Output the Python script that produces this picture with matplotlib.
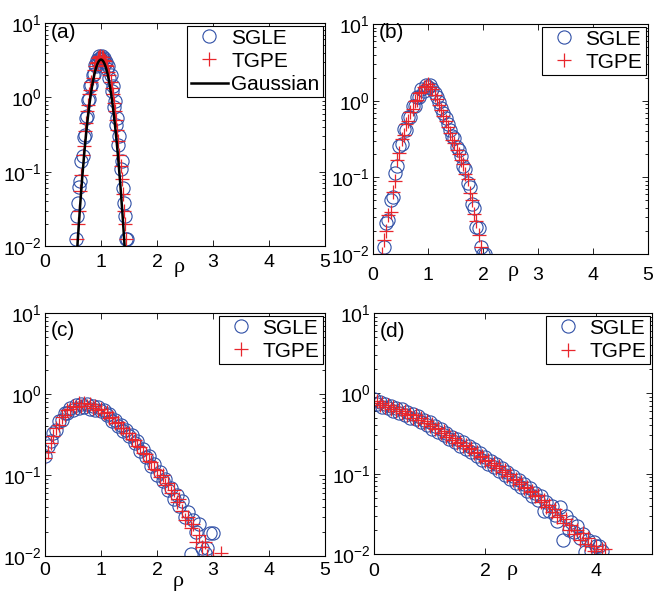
import numpy as np
import matplotlib
matplotlib.use("Agg")
import matplotlib.pyplot as plt
from matplotlib.ticker import LogLocator, NullFormatter, FixedLocator

plt.rcParams['font.family'] = ['Liberation Sans', 'DejaVu Sans']
plt.rcParams['font.size'] = 14
plt.rcParams['mathtext.default'] = 'regular'

nan = np.nan

# ---- panel (a): histogram bins and densities ----
rho_a = np.linspace(0.55, 1.47, 47)
sgle_a = [0.0125, 0.025, 0.0375, 0.0625, 0.075, 0.14, 0.16, 0.29, 0.31, 0.52,
          0.56, 0.92, 0.95, 1.4, 1.45, 2.0, 2.05, 2.7, 2.6, 3.2,
          3.1, 3.6, 3.4, 3.55, 3.3, 3.4, 2.9, 3.0, 2.4, 2.6,
          1.8, 2.0, 1.2, 1.4, 0.75, 0.9, 0.42, 0.52, 0.23, 0.3,
          0.11, 0.14, 0.06, 0.0375, 0.025, 0.0125, 0.0125]
tgpe_a = [nan, 0.0125, 0.02, 0.03, 0.055, 0.09, 0.17, 0.22, 0.35, 0.45,
          0.65, 0.8, 1.1, 1.25, 1.6, 1.8, 2.3, 2.6, 2.9, 3.0,
          3.35, 3.5, 3.65, 3.5, 3.45, 3.2, 3.1, 2.7, 2.6, 2.2,
          2.0, 1.6, 1.35, 1.1, 0.85, 0.65, 0.5, 0.36, 0.26, 0.17,
          0.12, 0.08, 0.05, 0.03, 0.02, 0.0125, nan]
gauss_mu = 1.0
gauss_sigma = 0.124

# ---- panel (b) ----
rho_b = np.linspace(0.16, 2.04, 48)
sgle_b = [nan, 0.0125, 0.025, 0.0275, 0.05, 0.055, 0.115, 0.14, 0.26, 0.27,
          0.43, 0.42, 0.62, 0.62, 0.86, 0.85, 1.12, 1.1, 1.4, 1.35,
          1.6, 1.5, 1.6, 1.4, 1.25, 1.1, 0.95, 0.8, 0.7, 0.6,
          0.5, 0.42, 0.35, 0.33, 0.25, 0.23, 0.19, 0.14, 0.13, 0.085,
          0.075, 0.045, 0.04, 0.0225, 0.022, 0.0125, 0.01, 0.01]
tgpe_b = [0.01, 0.015, 0.02, 0.032, 0.035, 0.065, 0.09, 0.17, 0.21, 0.32,
          0.36, 0.5, 0.55, 0.72, 0.78, 0.98, 1.02, 1.25, 1.3, 1.5,
          1.55, 1.65, 1.5, 1.4, 1.2, 1.05, 0.88, 0.76, 0.63, 0.55,
          0.45, 0.38, 0.31, 0.28, 0.23, 0.2, 0.17, 0.15, 0.11, 0.095,
          0.062, 0.05, 0.033, 0.027, 0.0175, 0.0125, nan, nan]

# ---- panel (c) ----
rho_c = np.linspace(0.0, 3.2, 65)
sgle_c = [0.17, 0.23, 0.26, 0.33, 0.36, 0.46, 0.48, 0.58, 0.58, 0.68,
          0.64, 0.74, 0.68, 0.76, 0.69, 0.75, 0.66, 0.72, 0.64, 0.7,
          0.61, 0.64, 0.55, 0.56, 0.47, 0.48, 0.4, 0.41, 0.35, 0.36,
          0.3, 0.31, 0.25, 0.26, 0.2, 0.21, 0.165, 0.17, 0.13, 0.135,
          0.1, 0.11, 0.085, 0.09, 0.066, 0.07, 0.05, 0.057, 0.042, 0.048,
          0.03, 0.035, 0.0105, 0.028, 0.02, 0.025, 0.0125, 0.011, 0.0125, 0.019,
          0.019, nan, nan, nan, nan]
tgpe_c = [0.16, 0.19, 0.25, 0.3, 0.38, 0.42, 0.52, 0.55, 0.63, 0.65,
          0.72, 0.7, 0.77, 0.72, 0.78, 0.71, 0.75, 0.68, 0.71, 0.64,
          0.66, 0.59, 0.6, 0.51, 0.52, 0.44, 0.45, 0.38, 0.38, 0.33,
          0.33, 0.28, 0.27, 0.23, 0.22, 0.185, 0.18, 0.15, 0.145, 0.12,
          0.115, 0.095, 0.1, 0.075, 0.08, 0.06, 0.065, 0.046, 0.05, 0.036,
          0.028, 0.03, 0.022, 0.025, 0.015, 0.018, 0.013, 0.015, 0.01, nan,
          0.01, nan, nan, 0.011, nan]

# ---- panel (d) ----
rho_d = np.linspace(0.0, 4.15, 84)
sgle_d = [0.84, 0.74, 0.78, 0.68, 0.74, 0.65, 0.7, 0.6, 0.66, 0.57,
          0.63, 0.54, 0.59, 0.5, 0.56, 0.48, 0.52, 0.44, 0.47, 0.4,
          0.44, 0.36, 0.39, 0.33, 0.36, 0.3, 0.32, 0.27, 0.29, 0.245,
          0.27, 0.22, 0.245, 0.205, 0.22, 0.185, 0.2, 0.165, 0.18, 0.148,
          0.16, 0.133, 0.145, 0.12, 0.132, 0.109, 0.118, 0.097, 0.105, 0.086,
          0.094, 0.076, 0.084, 0.068, 0.075, 0.06, 0.067, 0.053, 0.058, 0.047,
          0.052, 0.034, 0.045, 0.034, 0.04, 0.031, 0.026, 0.038, 0.015, 0.03,
          0.02, 0.025, 0.019, 0.022, 0.016, 0.0175, 0.0105, 0.015, 0.011, 0.014,
          0.0125, 0.0125, 0.011, nan]
tgpe_d = [0.76, 0.8, 0.72, 0.75, 0.68, 0.71, 0.64, 0.67, 0.6, 0.63,
          0.57, 0.6, 0.54, 0.56, 0.5, 0.53, 0.47, 0.49, 0.43, 0.45,
          0.39, 0.41, 0.355, 0.37, 0.32, 0.335, 0.29, 0.305, 0.265, 0.275,
          0.24, 0.25, 0.22, 0.23, 0.2, 0.21, 0.18, 0.186, 0.16, 0.167,
          0.143, 0.15, 0.13, 0.136, 0.118, 0.124, 0.106, 0.11, 0.094, 0.098,
          0.084, 0.087, 0.075, 0.078, 0.066, 0.069, 0.059, 0.061, 0.052, 0.054,
          0.045, 0.047, 0.039, 0.041, 0.033, 0.036, 0.029, 0.031, 0.024, 0.027,
          0.02, 0.023, 0.0175, 0.02, 0.015, 0.018, 0.0135, 0.016, 0.0125, 0.011,
          0.0125, nan, 0.0115, 0.0115]

panel_labels = ['(a)', '(b)', '(c)', '(d)']
blue = '#2f4fa6'
red = '#e8262c'
W, H = 657, 593

fig = plt.figure(figsize=(W / 100, H / 100), dpi=100)


def make_axes(left, right, top, bottom):
    return fig.add_axes([left / W, 1 - bottom / H, (right - left) / W, (bottom - top) / H])


# pixel boxes (left, right, top, bottom)
ax_a = make_axes(45, 325, 23, 246)
ax_b = make_axes(373, 648, 24, 254)
ax_c = make_axes(45, 325, 313, 556)
ax_d = make_axes(374, 652, 313, 554)


def draw_panel(ax, rho, sgle, tgpe, label, xticks, xpad, lab_dy, rho_x, rho_dy):
    ax.plot(rho, sgle, 'o', ms=9.5, mfc='none', mec=blue, mew=0.8, label='SGLE')
    ax.plot(rho, tgpe, '+', ms=10, color=red, mew=0.9, label='TGPE')
    ax.set_yscale('log')
    ax.set_xlim(0, 5)
    ax.set_ylim(1e-2, 1e1)
    ax.set_xticks(xticks)
    ax.set_xticklabels([str(t) for t in xticks])
    ax.yaxis.set_major_locator(FixedLocator([1e-2, 1e-1, 1e0, 1e1]))
    ax.yaxis.set_minor_locator(LogLocator(base=10, subs=np.arange(2, 10)))
    ax.yaxis.set_minor_formatter(NullFormatter())
    ax.tick_params(which='both', direction='in', top=True, right=True, width=0.6)
    ax.tick_params(which='major', length=4)
    ax.tick_params(which='minor', length=2)
    ax.tick_params(axis='x', pad=xpad)
    ax.tick_params(axis='y', pad=2.5)
    for s in ax.spines.values():
        s.set_linewidth(0.8)
    h_px = ax.get_position().height * H
    ax.text(0.02, 1 - lab_dy / h_px, label, transform=ax.transAxes,
            ha='left', va='center', fontsize=15)
    ax.text(rho_x, -rho_dy / h_px, 'ρ', transform=ax.get_xaxis_transform(),
            ha='center', va='baseline', fontsize=16,
            family=['Liberation Serif', 'DejaVu Serif'])


draw_panel(ax_a, rho_a, sgle_a, tgpe_a, panel_labels[0], [0, 1, 2, 3, 4, 5], 6, 10, 2.39, 26)
gx = np.linspace(0.4, 1.6, 400)
gy = np.exp(-(gx - gauss_mu) ** 2 / (2 * gauss_sigma ** 2)) / (gauss_sigma * np.sqrt(2 * np.pi))
ax_a.plot(gx, gy, 'k-', lw=1.8, label='Gaussian')
draw_panel(ax_b, rho_b, sgle_b, tgpe_b, panel_labels[1], [0, 1, 2, 3, 4, 5], 9.5, 9, 2.55, 22)
draw_panel(ax_c, rho_c, sgle_c, tgpe_c, panel_labels[2], [0, 1, 2, 3, 4, 5], 4, 18, 2.38, 30)
draw_panel(ax_d, rho_d, sgle_d, tgpe_d, panel_labels[3], [0, 2, 4], 6.5, 18, 2.49, 21)

for ax in [ax_a, ax_b, ax_c, ax_d]:
    leg = ax.legend(loc='upper right', numpoints=1, fancybox=False, framealpha=1,
                    edgecolor='black', fontsize=15, handlelength=1.8, handletextpad=0.15,
                    borderpad=0.15, labelspacing=0.2, borderaxespad=0.12)
    leg.get_frame().set_linewidth(0.8)

fig.savefig('out.png', dpi=100)
